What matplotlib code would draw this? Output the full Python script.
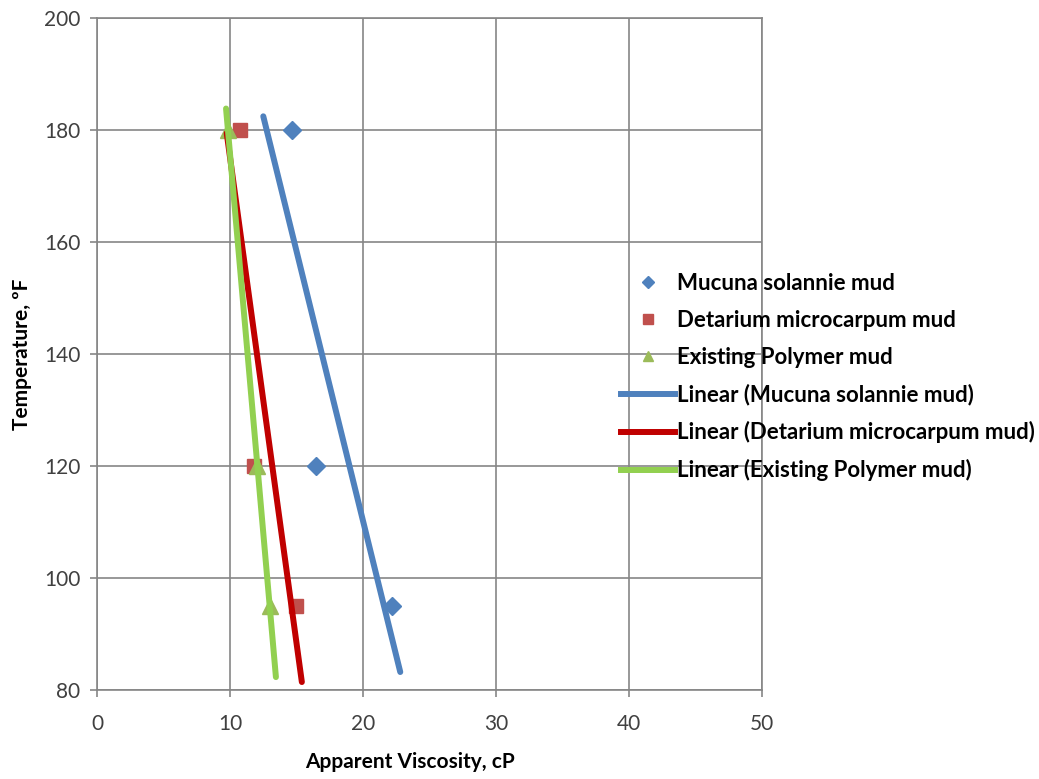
import numpy as np
import matplotlib.pyplot as plt
from matplotlib.lines import Line2D

plt.rcParams['font.family'] = ['Lato', 'DejaVu Sans']

# Data (viscosity cP, temperature F)
temp = [180, 120, 95]
mucuna = [14.66, 16.47, 22.18]
detarium = [10.75, 11.8, 14.96]
existing = [9.85, 12.03, 13.0]

names = ["Mucuna solannie mud", "Detarium microcarpum mud", "Existing Polymer mud"]
# x extent of each trendline (forecast as in the original)
trend_x = [(12.5, 22.8), (9.75, 15.4), (9.7, 13.45)]

marker_colors = ['#4F81BD', '#C0504D', '#9BBB59']
line_colors = ['#4F81BD', '#C00000', '#92D050']
markers = ['D', 's', '^']
msizes = [9, 10, 11]

fig = plt.figure(figsize=(10.39, 7.79), dpi=100)
ax = fig.add_axes([0.0934, 0.1143, 0.64, 0.8626])

series = [mucuna, detarium, existing]
for i, xs in enumerate(series):
    ax.plot(xs, temp, linestyle='none', marker=markers[i], markersize=msizes[i],
            color=marker_colors[i], zorder=3)

for i, xs in enumerate(series):
    slope, icpt = np.polyfit(xs, temp, 1)
    xx = np.array(trend_x[i])
    ax.plot(xx, slope * xx + icpt, color=line_colors[i], linewidth=4.3,
            solid_capstyle='round', zorder=4)

ax.set_xlim(0, 50)
ax.set_ylim(80, 200)
ax.set_xticks(range(0, 51, 10))
ax.set_yticks(range(80, 201, 20))
ax.grid(True, color='#868686', linewidth=1.2)
ax.set_axisbelow(True)
for s in ax.spines.values():
    s.set_color('#868686')
    s.set_linewidth(1.2)
ax.tick_params(colors='#868686', labelcolor='#404040', labelsize=15, length=5, width=1.2)
ax.tick_params(axis='x', pad=12)
ax.tick_params(axis='y', pad=7)

ax.set_xlabel("Apparent Viscosity, cP", fontsize=15, fontweight='bold')
ax.set_ylabel("Temperature, ºF", fontsize=15, fontweight='bold')
ax.xaxis.set_label_coords(0.47, -0.093)
ax.yaxis.set_label_coords(-0.098, 0.5)

handles = []
for i in range(3):
    handles.append(Line2D([], [], linestyle='none', marker=markers[i], markersize=msizes[i] * 0.65,
                          color=marker_colors[i]))
for i in range(3):
    handles.append(Line2D([], [], color=line_colors[i], linewidth=4.3))
labels = names + ["Linear (%s)" % n for n in names]
fig.legend(handles, labels, loc='center left', bbox_to_anchor=(0.578, 0.516),
           frameon=False, handlelength=2.45, handletextpad=0.1,
           labelspacing=0.72, prop={'weight': 'bold', 'size': 16})

fig.savefig("out.png", dpi=100)
